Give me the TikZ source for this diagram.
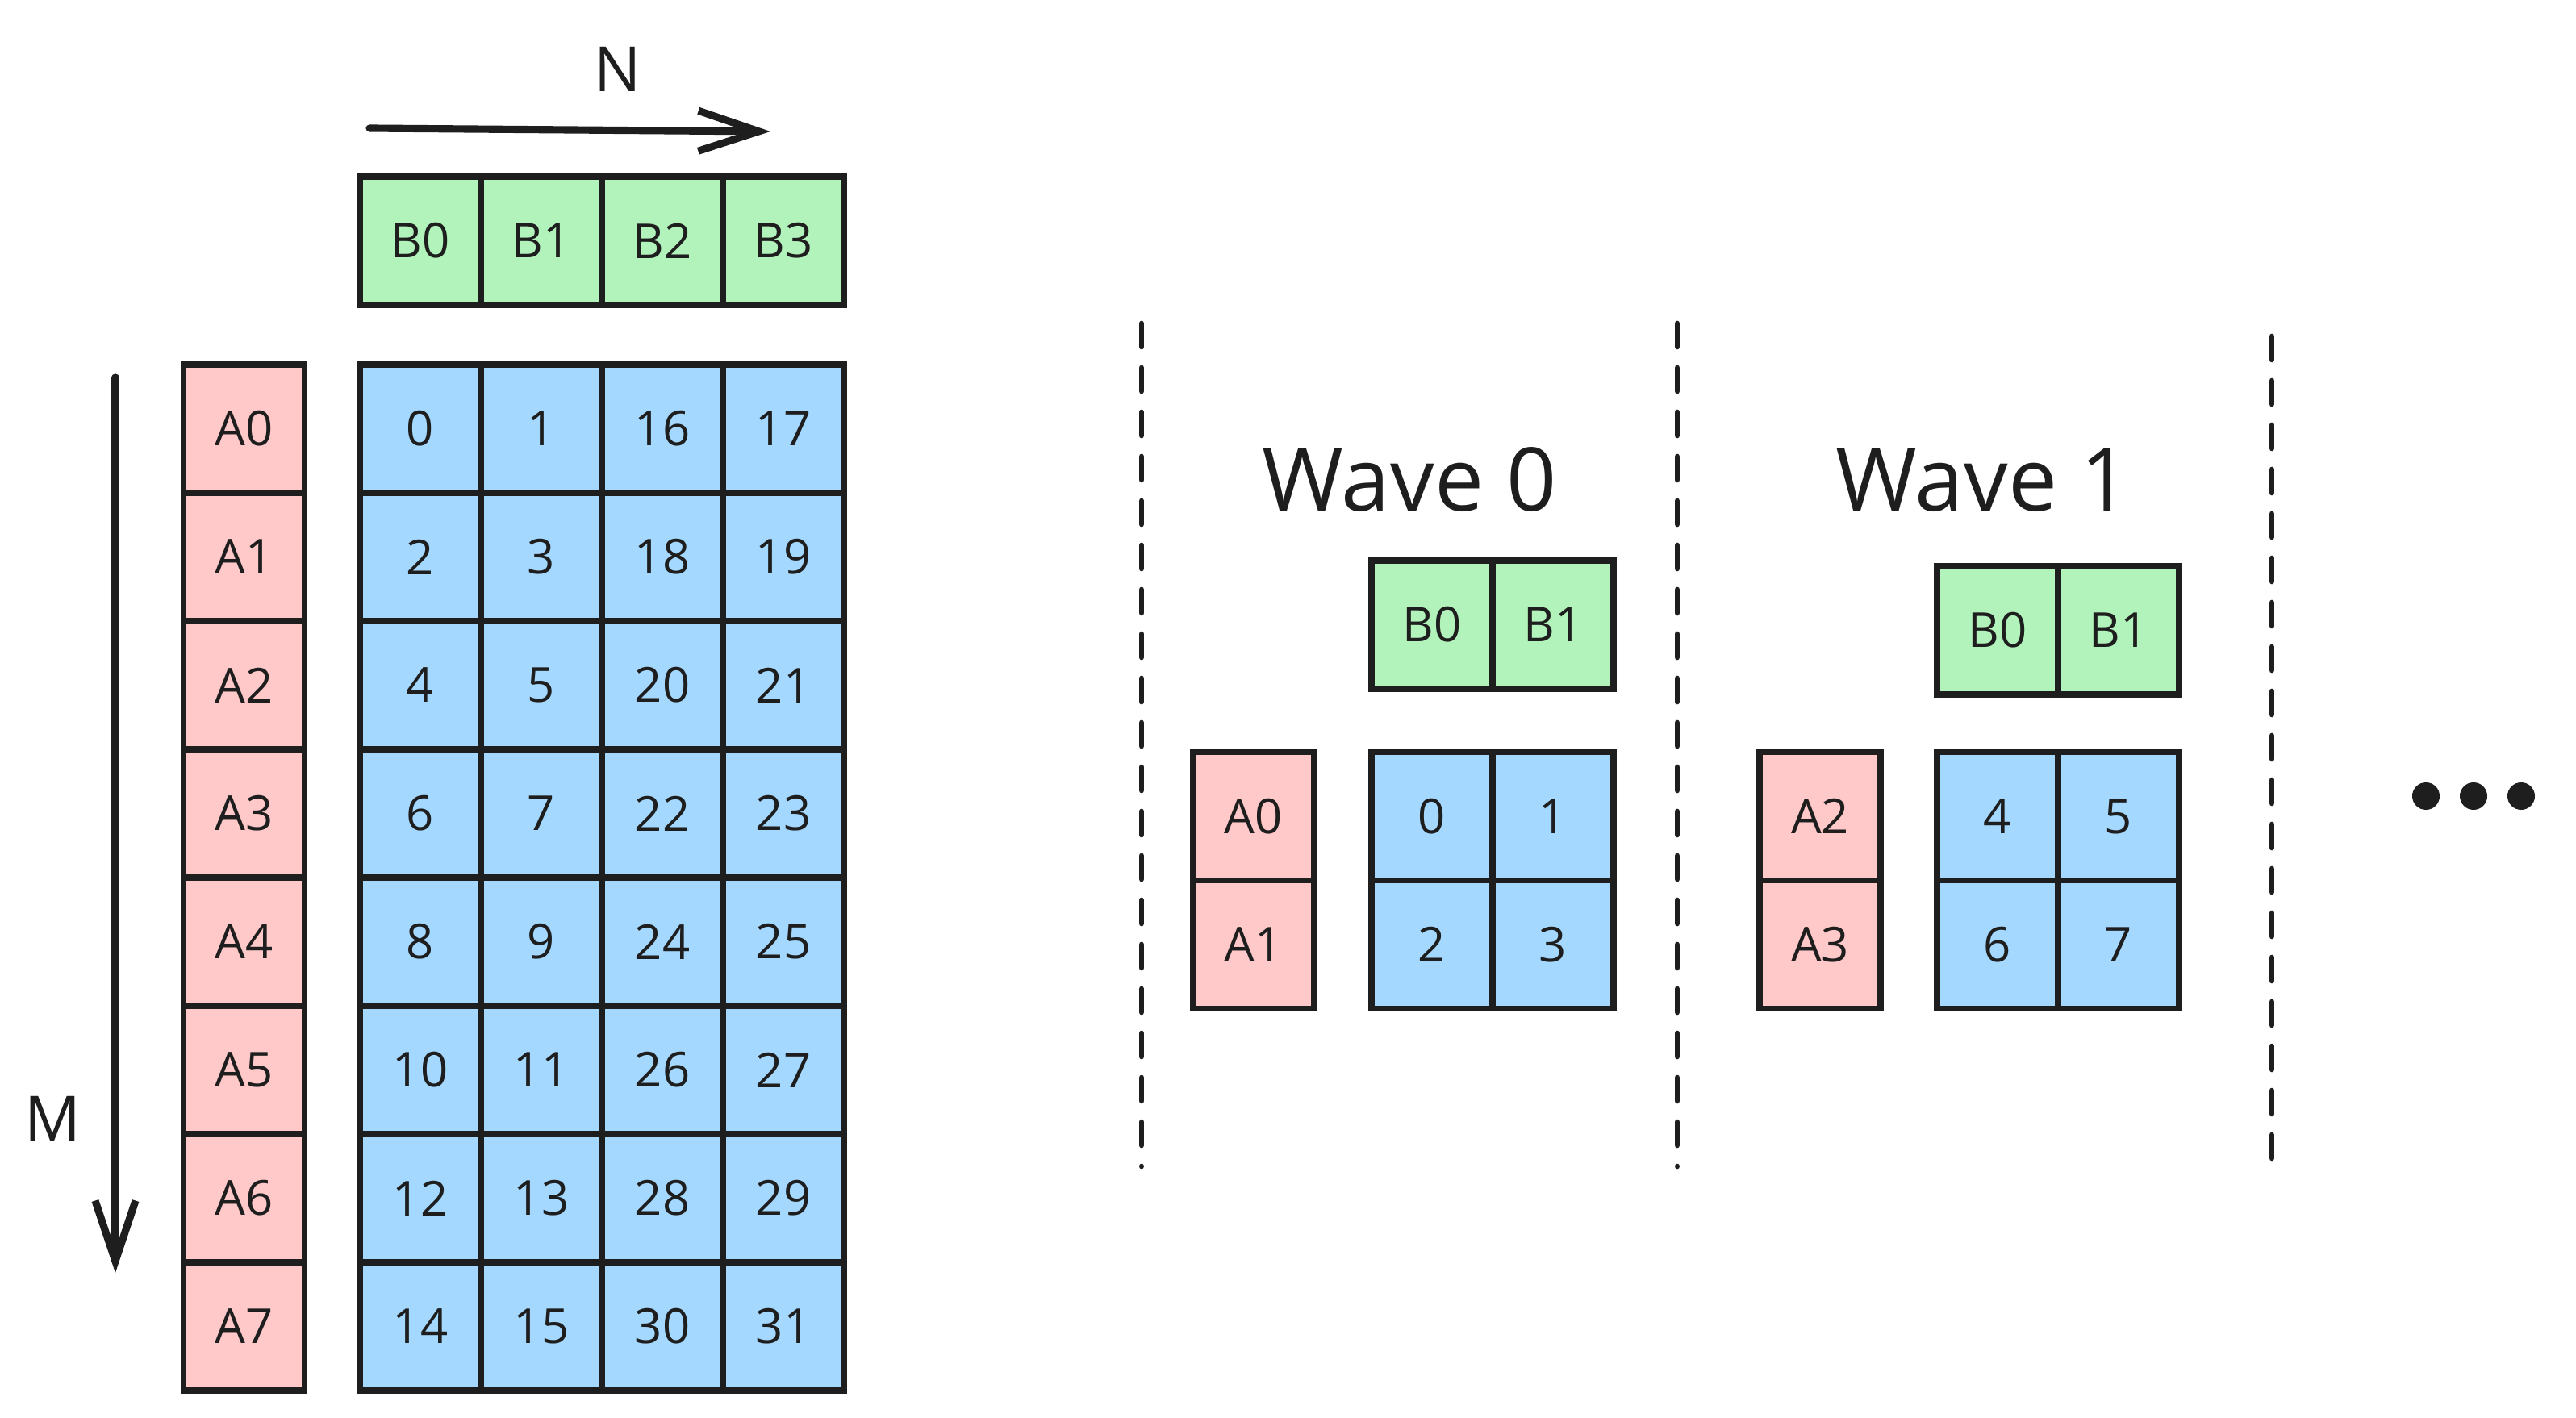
\documentclass[tikz,border=0pt]{standalone}
\usepackage{fontspec}
\setmainfont{Open Sans}
\usetikzlibrary{arrows.meta}
\definecolor{ink}{HTML}{1E1E1E}
\definecolor{bgreen}{HTML}{B2F2BB}
\definecolor{ared}{HTML}{FFC9C9}
\definecolor{cblue}{HTML}{A5D8FF}

\begin{document}
\begin{tikzpicture}[
        cell/.style = {draw=ink, fill=#1, line width=2.2pt, minimum width=1.5cm, minimum height=1.59cm,
                       inner sep=0pt, outer sep=0pt, text=ink, font=\fontsize{17}{20}\selectfont},
        axis/.style = {draw=ink, line width=2.6pt, line cap=round, -{Straight Barb[length=7.5mm, width=5mm]}},
        sep/.style  = {draw=ink, line width=1.9pt, line cap=round, dash pattern=on 2.9mm off 2.6mm},
        title/.style = {text=ink, font=\fontsize{31}{36}\selectfont},
        dimlabel/.style = {text=ink, font=\fontsize{22}{26}\selectfont}
        ]
        \useasboundingbox (0,0) rectangle (31.93,17.57);

        % full problem: A column, B row, C tile
        \foreach \c in {0,...,3}
            \node (B\c) at ({5.21+1.5*\c},14.585) [cell=bgreen] {B\c};
        \foreach \r in {0,...,7}
            \node (A\r) at (3.025,{12.255-1.59*\r}) [cell=ared] {A\r};
        \foreach \r in {0,...,7}
            \foreach \c in {0,...,3} {
                \pgfmathtruncatemacro{\v}{2*\r+\c+(\c>1)*14}
                \node (C\r\c) at ({5.21+1.5*\c},{12.255-1.59*\r}) [cell=cblue] {\v};
            }

        % N and M
        \coordinate (Nstart) at (4.58,15.98);
        \coordinate (Nend) at (9.55,15.94);
        \draw[axis] (Nstart) -- (Nend);
        \node (N) at (7.66,16.71) [dimlabel] {N};
        \coordinate (Mstart) at (1.43,12.89);
        \coordinate (Mend) at (1.43,1.79);
        \draw[axis] (Mstart) -- (Mend);
        \node (M) at (0.65,3.70) [dimlabel] {M};

        % waves
        \foreach \k/\ax/\cx/\by/\tx in {0/15.535/17.75/9.825/17.47, 1/22.56/24.76/9.755/24.58} {
            \pgfmathtruncatemacro{\ai}{2*\k}
            \pgfmathtruncatemacro{\aj}{2*\k+1}
            \node (W\k) at (\tx,11.62) [title] {Wave \k};
            \node (W\k B0) at (\cx,\by) [cell=bgreen] {B0};
            \node (W\k B1) at (\cx+1.5,\by) [cell=bgreen] {B1};
            \node (W\k A0) at (\ax,7.45) [cell=ared] {A\ai};
            \node (W\k A1) at (\ax,5.86) [cell=ared] {A\aj};
            \foreach \r in {0,1}
                \foreach \c in {0,1} {
                    \pgfmathtruncatemacro{\v}{4*\k+2*\r+\c}
                    \node (W\k C\r\c) at ({\cx+1.5*\c},{7.45-1.59*\r}) [cell=cblue] {\v};
                }
        }

        % separators
        \draw[sep] (14.15,13.56) -- (14.15,3.11);
        \draw[sep] (20.79,13.56) -- (20.79,3.11);
        \draw[sep] (28.16,13.40) -- (28.16,3.07);

        % more waves
        \foreach \x in {30.07,30.66,31.25}
            \fill[ink] (\x,7.70) circle (0.17);
    \end{tikzpicture}
\end{document}
